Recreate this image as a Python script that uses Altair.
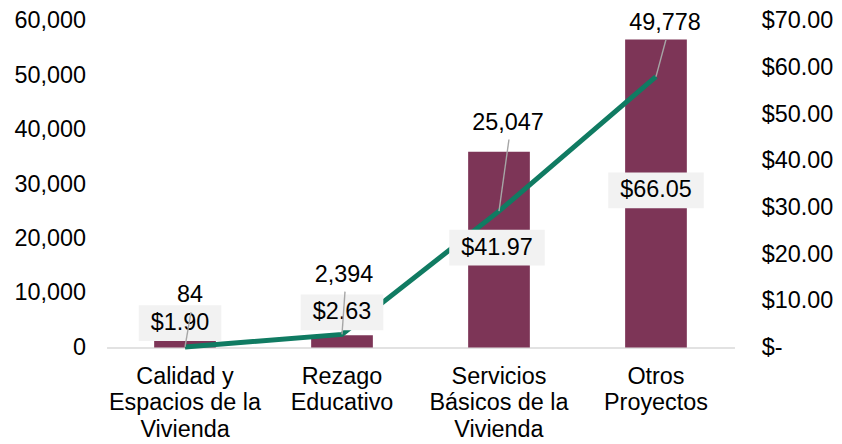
import altair as alt
import pandas as pd

# ---- data ----
categories = [
    "Calidad y\nEspacios de la\nVivienda",
    "Rezago\nEducativo",
    "Servicios\nBásicos de la\nVivienda",
    "Otros\nProyectos",
]
counts = [84, 2394, 25047, 49778]          # line, left axis
dollars = [1.90, 2.63, 41.97, 66.05]       # bars, right axis

# ---- label nudges (pixels) ----
count_dx = [5, 2, 9, 9]
count_dy = [-52, -60, -89, -54]
dollar_dx = [-5, 0, -2, 0]
dollar_dy = [-20, -29, -2, -3]

FONT = "Liberation Sans"
FS = 23.5
BAR = "#7D3557"
GREEN = "#107B62"
BOX = "#F2F2F2"

df = pd.DataFrame({
    "cat": categories,
    "count": counts,
    "dollar": dollars,
    "cdx": count_dx,
    "cdy": count_dy,
    "ddx": dollar_dx,
    "ddy": dollar_dy,
})
df["dollar_mid"] = df["dollar"] / 2
df["dlabel"] = ["${:.2f}".format(v) for v in dollars]


def box_path(label, dx, dy):
    w = 13 * len(label) + 18
    h = 18
    return (f"M{dx - w / 2},{dy - h}L{dx + w / 2},{dy - h}"
            f"L{dx + w / 2},{dy + h}L{dx - w / 2},{dy + h}Z")


df["box"] = [box_path(l, a, b) for l, a, b in zip(df["dlabel"], dollar_dx, dollar_dy)]

x = alt.X(
    "cat:N", sort=categories,
    scale=alt.Scale(paddingInner=0, paddingOuter=0),
    axis=alt.Axis(
        title=None, labelAngle=0, labelExpr="split(datum.label, '\\n')",
        labelFont=FONT, labelFontSize=FS, labelLineHeight=26.7, labelColor="#000000",
        labelPadding=17, labelLimit=400, ticks=False,
        domainColor="#D9D9D9", domainWidth=1.5,
    ),
)

y_d = alt.Scale(domain=[0, 70], nice=False, zero=True)
y_c = alt.Scale(domain=[0, 60000], nice=False, zero=True)

bars = alt.Chart(df).mark_bar(size=62, color=BAR).encode(
    x=x,
    y=alt.Y("dollar:Q", scale=y_d, title=None, axis=alt.Axis(
        orient="right", values=list(range(0, 71, 10)),
        labelExpr="datum.value == 0 ? '$-' : '$' + format(datum.value, ',.2f')",
        labelFont=FONT, labelFontSize=FS, labelColor="#000000",
        labelPadding=27, ticks=False, domain=False, grid=False,
    )),
)

line = alt.Chart(df).mark_line(color=GREEN, strokeWidth=5).encode(
    x=x,
    y=alt.Y("count:Q", scale=y_c, title=None, axis=alt.Axis(
        orient="left", values=list(range(0, 60001, 10000)),
        labelExpr="format(datum.value, ',')",
        labelFont=FONT, labelFontSize=FS, labelColor="#000000",
        labelPadding=21, ticks=False, domain=False, grid=False,
    )),
)

boxes = alt.Chart(df).mark_point(
    filled=True, size=4, fill=BOX, opacity=1, strokeWidth=0,
).encode(
    x=x,
    y=alt.Y("dollar_mid:Q", scale=y_d, axis=None),
    shape=alt.Shape("box:N", scale=None, legend=None),
)

dollar_text = alt.Chart(df).mark_text(
    font=FONT, fontSize=FS, color="#000000", align="center", baseline="middle",
    dx={"expr": "datum.ddx"}, dy={"expr": "datum.ddy"},
).encode(
    x=x,
    y=alt.Y("dollar_mid:Q", scale=y_d, axis=None),
    text=alt.Text("dollar:Q", format="$.2f"),
)

leaders = alt.Chart(df).mark_rule(
    color="#A6A6A6", strokeWidth=1.4,
    xOffset={"expr": "datum.cdx + 1"}, yOffset={"expr": "datum.cdy + 17"},
).encode(
    x=x,
    x2=alt.X2("cat"),
    y=alt.Y("count:Q", scale=y_c, axis=None),
    y2=alt.Y2("count"),
)

count_text = alt.Chart(df).mark_text(
    font=FONT, fontSize=FS, color="#000000", align="center", baseline="middle",
    dx={"expr": "datum.cdx"}, dy={"expr": "datum.cdy"},
).encode(
    x=x,
    y=alt.Y("count:Q", scale=y_c, axis=None),
    text=alt.Text("count:Q", format=","),
)

chart = alt.layer(
    bars, line, boxes, dollar_text, leaders, count_text
).resolve_scale(
    y="independent"
).properties(
    width=631, height=328,
    autosize=alt.AutoSizeParams(type="none"),
    padding={"left": 99, "top": 12, "right": 100, "bottom": 94},
    background="white",
).configure_view(stroke=None)

chart.save("out.html", embed_options={"renderer": "svg", "actions": False})
